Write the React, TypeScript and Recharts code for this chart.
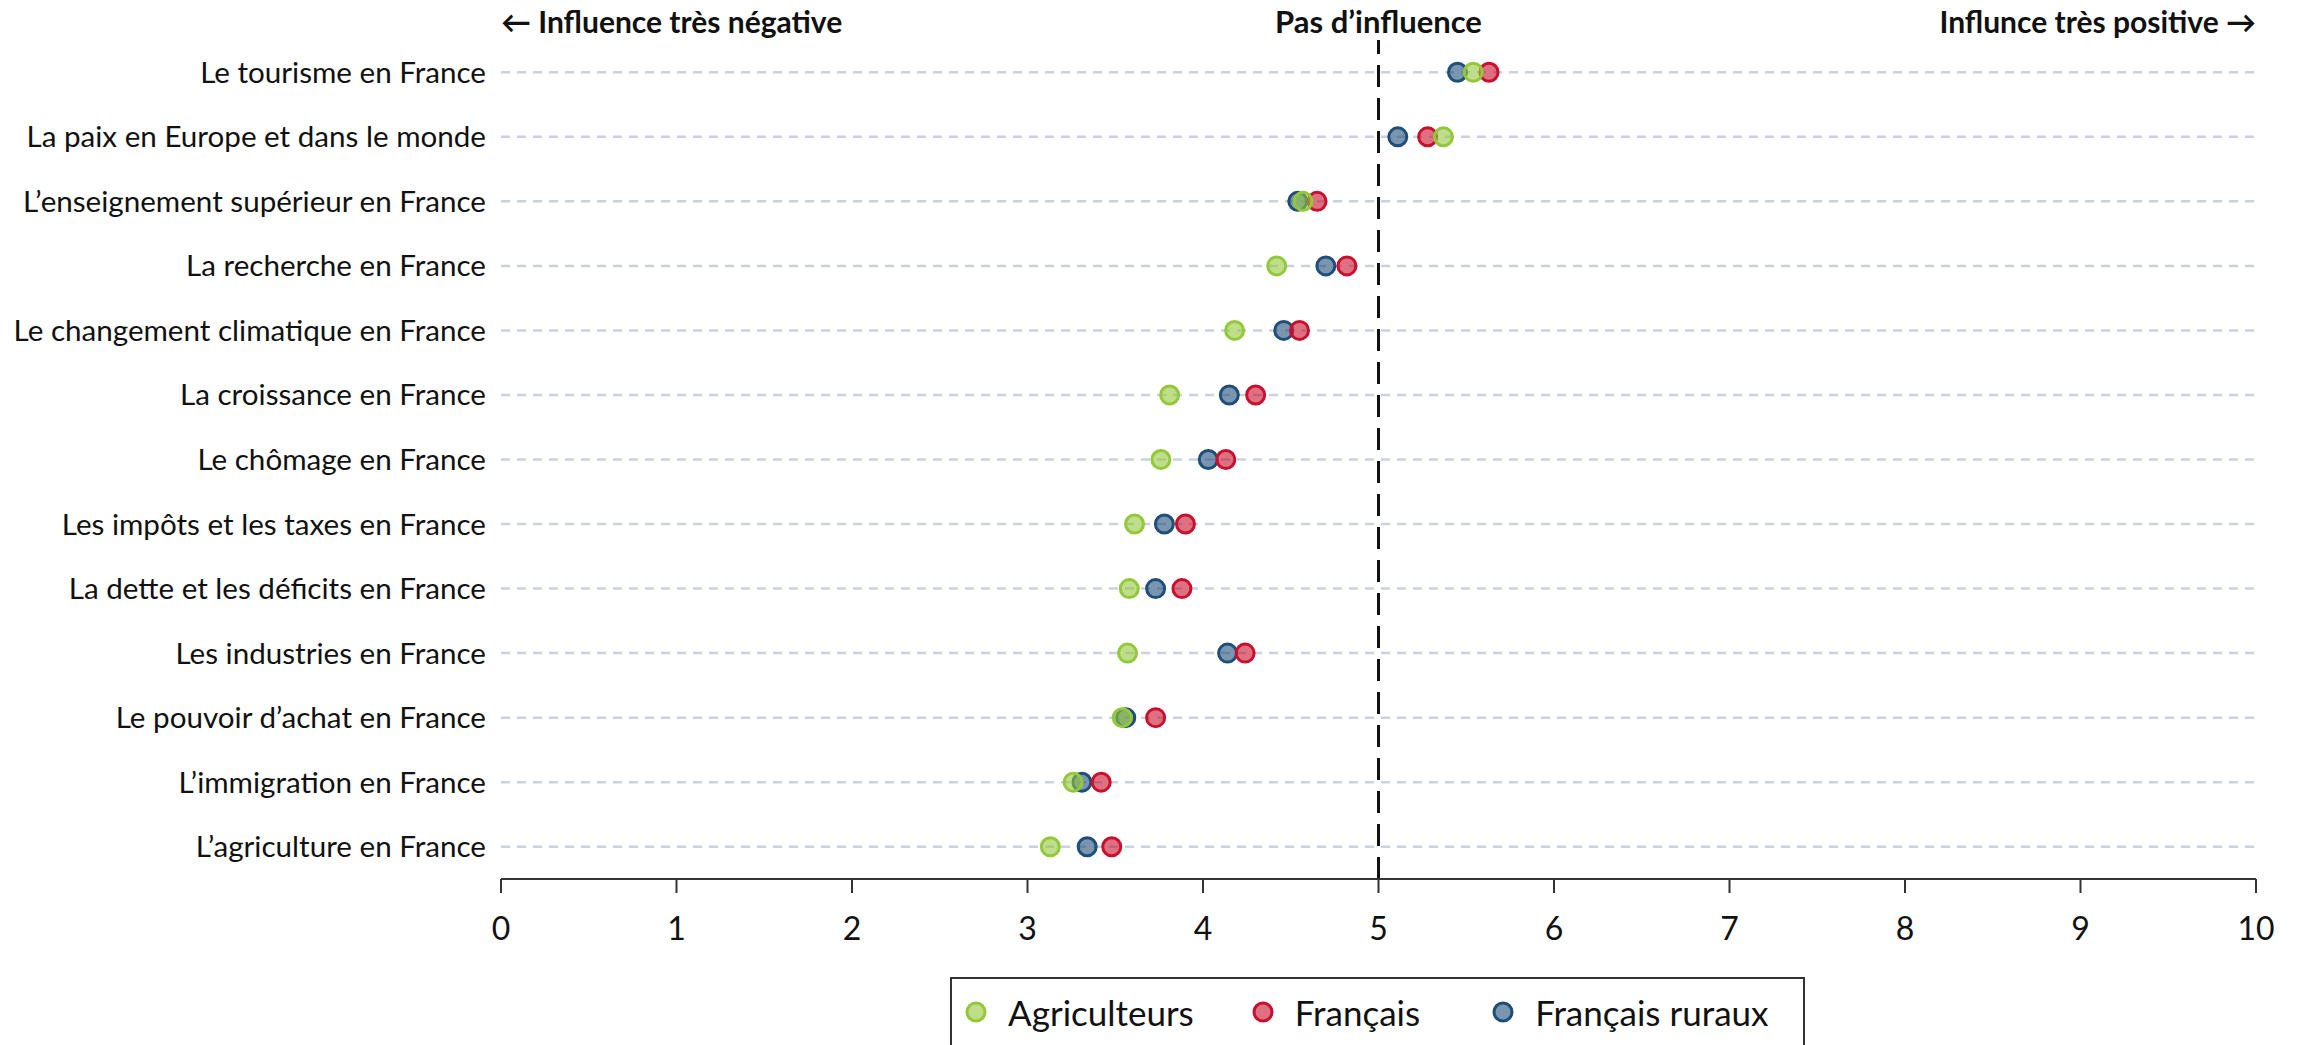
import React from 'react';
import { ScatterChart, Scatter, XAxis, YAxis, CartesianGrid, ReferenceLine, Legend } from 'recharts';

const categories = [
  'Le tourisme en France',
  'La paix en Europe et dans le monde',
  'L’enseignement supérieur en France',
  'La recherche en France',
  'Le changement climatique en France',
  'La croissance en France',
  'Le chômage en France',
  'Les impôts et les taxes en France',
  'La dette et les déficits en France',
  'Les industries en France',
  'Le pouvoir d’achat en France',
  'L’immigration en France',
  'L’agriculture en France',
];

const agriculteurs = [5.54, 5.37, 4.57, 4.42, 4.18, 3.81, 3.76, 3.61, 3.58, 3.57, 3.54, 3.26, 3.13];
const francais = [5.63, 5.28, 4.65, 4.82, 4.55, 4.3, 4.13, 3.9, 3.88, 4.24, 3.73, 3.42, 3.48];
const ruraux = [5.45, 5.11, 4.54, 4.7, 4.46, 4.15, 4.03, 3.78, 3.73, 4.14, 3.56, 3.31, 3.34];

const xTicks = [0, 1, 2, 3, 4, 5, 6, 7, 8, 9, 10];
const seriesNames = ['Agriculteurs', 'Français', 'Français ruraux'];
const seriesColors = ['#93c83a', '#c8102e', '#1f4e79'];
const headerLeft = '← Influence très négative';
const headerMid = 'Pas d’influence';
const headerRight = 'Influnce très positive →';

const FONT = 'Lato, "Noto Sans", sans-serif';
const rowIndex = categories.map((_, i) => i);
const legendGaps = [58, 72, 0];

const toPoints = (vals: number[]) => vals.map((v, i) => ({ x: v, y: i }));

const makeDot = (color: string) => (props: any) => (
  <circle
    cx={props.cx}
    cy={props.cy}
    r={9}
    fill={color}
    fillOpacity={0.6}
    stroke={color}
    strokeWidth={3}
  />
);

const headerLabel = (text: string, anchor: 'start' | 'middle' | 'end', size: number) => (props: any) => {
  const vb = props.viewBox || {};
  return (
    <text
      x={vb.x}
      y={33}
      textAnchor={anchor}
      fontFamily={FONT}
      fontWeight={700}
      fontSize={size}
      fill="#111"
    >
      {text}
    </text>
  );
};

const renderLegend = () => (
  <div
    style={{
      boxSizing: 'border-box',
      width: 855,
      height: 72,
      border: '2px solid #333',
      background: '#fff',
      display: 'flex',
      alignItems: 'flex-start',
      paddingLeft: 13,
      paddingTop: 11,
      fontFamily: FONT,
      fontSize: 35,
      lineHeight: '44px',
      color: '#111',
      whiteSpace: 'nowrap',
      overflow: 'hidden',
    }}
  >
    {seriesNames.map((name, i) => (
      <div key={name} style={{ display: 'flex', alignItems: 'center', flexShrink: 0, marginRight: legendGaps[i] }}>
        <svg width={22} height={22} style={{ marginRight: 21, flexShrink: 0 }}>
          <circle cx={11} cy={11} r={9} fill={seriesColors[i]} fillOpacity={0.6} stroke={seriesColors[i]} strokeWidth={3} />
        </svg>
        <span style={{ whiteSpace: 'nowrap' }}>{name}</span>
      </div>
    ))}
  </div>
);

export default function App() {
  return (
    <div style={{ position: 'absolute', left: 0, top: 0, width: 2300, height: 1045, background: '#fff', fontFamily: FONT, overflow: 'hidden' }}>
      <ScatterChart width={2300} height={1045} margin={{ top: 40, right: 44, bottom: 106, left: 0 }}>
        <CartesianGrid
          horizontal
          vertical={false}
          syncWithTicks
          stroke="#c9d2de"
          strokeWidth={2.5}
          strokeDasharray="9 7"
        />
        <XAxis
          type="number"
          dataKey="x"
          domain={[0, 10]}
          ticks={xTicks}
          interval={0}
          height={60}
          axisLine={{ stroke: '#333', strokeWidth: 2 }}
          tickLine={{ stroke: '#333', strokeWidth: 2 }}
          tickSize={14}
          tickMargin={24}
          tick={{ fontSize: 32, fontFamily: FONT, fill: '#111' }}
        />
        <YAxis
          type="number"
          dataKey="y"
          domain={[-0.5, 12.5]}
          reversed
          ticks={rowIndex}
          interval={0}
          tickFormatter={(i: number) => categories[i]}
          width={501}
          axisLine={false}
          tickLine={false}
          tickSize={0}
          tickMargin={15}
          tick={{ fontSize: 29.6, fontFamily: FONT, fill: '#111' }}
        />
        <ReferenceLine x={0} stroke="none" label={{ content: headerLabel(headerLeft, 'start', 30) } as any} />
        <ReferenceLine x={10} stroke="none" label={{ content: headerLabel(headerRight, 'end', 30) } as any} />
        <ReferenceLine
          x={5}
          stroke="#111"
          strokeWidth={3}
          strokeDasharray="22 11"
          label={{ content: headerLabel(headerMid, 'middle', 31) } as any}
        />
        <Scatter name={seriesNames[2]} data={toPoints(ruraux)} shape={makeDot(seriesColors[2])} isAnimationActive={false} />
        <Scatter name={seriesNames[1]} data={toPoints(francais)} shape={makeDot(seriesColors[1])} isAnimationActive={false} />
        <Scatter name={seriesNames[0]} data={toPoints(agriculteurs)} shape={makeDot(seriesColors[0])} isAnimationActive={false} />
        <Legend
          layout="horizontal"
          verticalAlign="middle"
          align="center"
          wrapperStyle={{ position: 'absolute', top: 977, left: 950, width: 855, height: 72 }}
          content={renderLegend}
        />
      </ScatterChart>
    </div>
  );
}
